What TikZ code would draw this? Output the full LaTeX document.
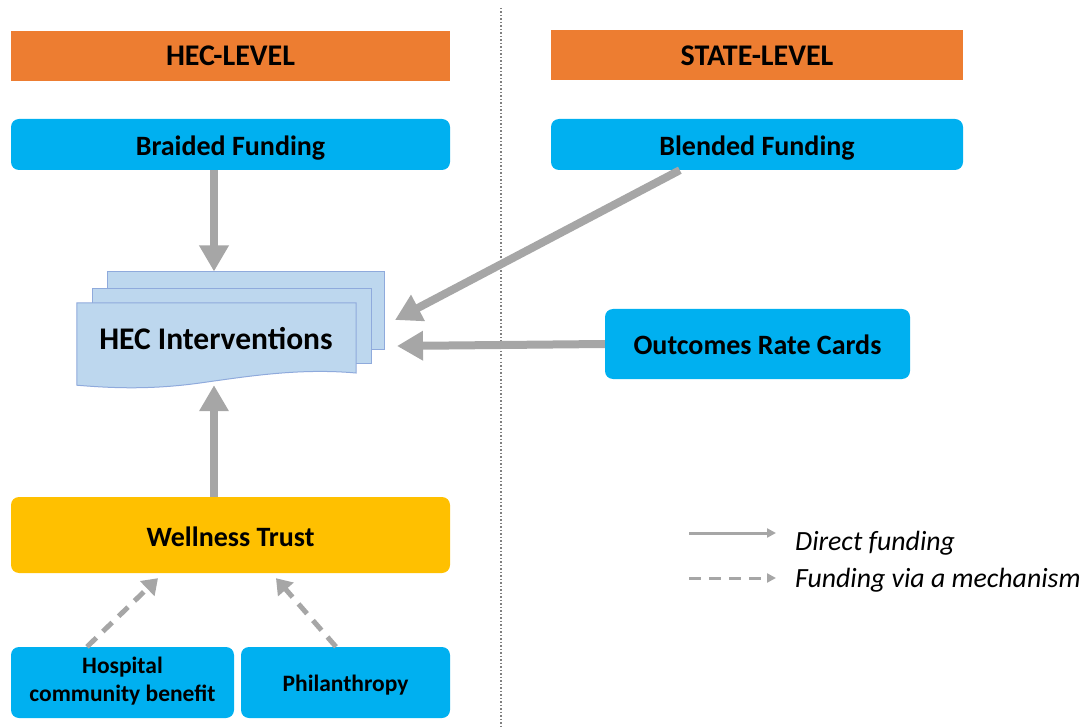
\documentclass[tikz,border=0pt]{standalone}
\usepackage{fontspec}
\setmainfont{Carlito}
\usetikzlibrary{arrows.meta}
\definecolor{hecorange}{HTML}{ED7D31}
\definecolor{fundblue}{HTML}{00B0F0}
\definecolor{trustgold}{HTML}{FFC000}
\definecolor{pagefill}{HTML}{BDD7EE}
\definecolor{pageline}{HTML}{8FAADC}
\definecolor{arrowgrey}{HTML}{A6A6A6}

\begin{document}
\begin{tikzpicture}[x=1pt,y=-1pt,
  level/.style={fill=hecorange, inner sep=0pt, minimum height=50pt,
    font=\fontsize{30}{34}\selectfont\bfseries},
  fund/.style={fill=fundblue, rounded corners=8pt, inner sep=0pt,
    text height=22pt, text depth=0pt,
    font=\fontsize{28}{32}\selectfont\bfseries},
  small/.style={fill=fundblue, rounded corners=8pt, inner sep=0pt, align=center,
    font=\fontsize{23.5}{28}\selectfont\bfseries},
  page/.style={draw=pageline, fill=pagefill, line width=1pt, inner sep=0pt},
  direct/.style={draw=arrowgrey, line width=8pt, -{Triangle[length=26pt,width=28pt]}},
  mech/.style={draw=arrowgrey, line width=5pt, dash pattern=on 13pt off 9pt,
    -{Triangle[length=15pt,width=20pt]}},
  legdirect/.style={draw=arrowgrey, line width=3pt, -{Triangle[length=9pt,width=9pt]}},
  legmech/.style={legdirect, dash pattern=on 12pt off 8pt},
  legtext/.style={anchor=west, inner sep=0pt, font=\fontsize{27.8}{32}\selectfont\itshape}]
\useasboundingbox (0,0) rectangle (1090,727);

\draw [gray, line width=1.5pt, dotted] (501,8) -- (501,727);

% headers
\node[level, minimum width=439pt] (heclevel) at (230.5,56) {HEC-LEVEL};
\node[level, minimum width=412pt] (statelevel) at (757,55.5) {STATE-LEVEL};

% funding boxes
\node[fund, minimum width=439pt, minimum height=51pt] (braided) at (230.5,144.5) {Braided Funding};
\node[fund, minimum width=412pt, minimum height=51pt] (blended) at (757,144.5) {Blended Funding};
\node[fund, minimum width=305pt, minimum height=70pt] (outcomes) at (757.5,344) {Outcomes Rate Cards};
\node[fund, fill=trustgold, minimum width=439pt, minimum height=76pt] (trust) at (230.5,535) {Wellness Trust};
\node[small, text depth=6pt, minimum width=223pt, minimum height=71pt] (hospital) at (122.5,682.5) {Hospital\\community benefit};
\node[small, text height=18pt, text depth=0pt, minimum width=209pt, minimum height=71pt] (philanthropy) at (345.5,682.5) {Philanthropy};

% HEC interventions (stacked pages)
\node[page, minimum width=277pt, minimum height=78pt] (page3) at (246,311) {};
\node[page, minimum width=279pt, minimum height=75pt] (page2) at (232,326) {};
\node[inner sep=0pt, minimum width=279pt, minimum height=82pt] (hec) at (216.5,344) {};
\draw[page] (hec.south west) -- (hec.north west) -- (hec.north east) -- (356,373)
  .. controls (300,368) and (250,376) .. (200,383)
  .. controls (150,390) and (110,388) .. (hec.south west) -- cycle;
\node[font=\fontsize{31.5}{36}\selectfont\bfseries] at (216,339) {HEC Interventions};

\coordinate (tipdiag) at (395,320);
\coordinate (tiphor) at (397,346);

% connectors
\draw[direct] ([xshift=-16.5pt]braided.south) -- ([xshift=-16.5pt]braided.south |- page3.north);
\draw[direct] ([xshift=129pt]blended.south west) -- (tipdiag);
\draw[direct] (outcomes.west) -- (tiphor);
\draw[direct] ([xshift=-16.5pt]trust.north) -- ([xshift=-16.5pt]trust.north |- hec.south);
\draw[mech] ([xshift=-35.5pt]hospital.north) -- ([shift={(-72.5,5)}]trust.south);
\draw[mech] ([xshift=-9.5pt]philanthropy.north) -- ([shift={(45.5,5)}]trust.south);

% legend
\coordinate (leg1) at (689,533);
\coordinate (leg1end) at (776,533);
\coordinate (leg2) at (689,578);
\coordinate (leg2end) at (776,578);
\draw[legdirect] (leg1) -- (leg1end);
\draw[legmech] (leg2) -- (leg2end);
\node[legtext] (legone) at (795,543) {Direct funding};
\node[legtext] (legtwo) at (795,580) {Funding via a mechanism};

\end{tikzpicture}
\end{document}
